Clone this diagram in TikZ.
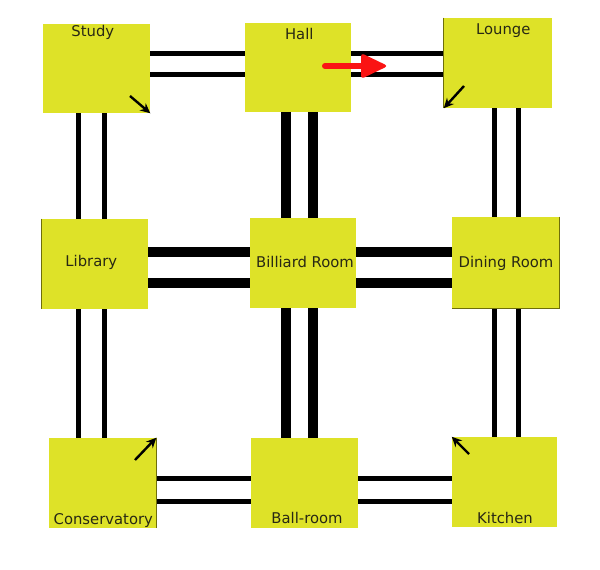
\documentclass[tikz,border=0pt]{standalone}
\usepackage{fontspec}
\setmainfont{DejaVu Sans}
\usetikzlibrary{arrows.meta,backgrounds}
\definecolor{roomfill}{RGB}{222,226,40}
\definecolor{roomedge}{RGB}{110,110,10}
\definecolor{txt}{RGB}{40,40,20}
\definecolor{redarrow}{RGB}{250,20,20}
\tikzset{
  room/.style 2 args={rectangle, fill=roomfill, draw=none, inner sep=0pt,
    minimum width=#1*0.75pt, minimum height=#2*0.75pt},
  lbl/.style={anchor=base, text=txt, font=\fontsize{11.1pt}{12pt}\selectfont, inner sep=0pt},
  thinwall/.style={line width=3.75pt, black},
  thickwall/.style={line width=7.5pt, black},
  pointer/.style={line width=1.8pt, black, -{Stealth[length=7.5pt,width=7pt]}},
  edgeline/.style={line width=0.9pt, roomedge}
}
\begin{document}
\begin{tikzpicture}[x=0.75pt,y=-0.75pt]
\useasboundingbox (0,0) rectangle (600,570);
% rooms
\node[room={107}{89}] (study) at (96.5,68.5) {};
\node[room={106}{89}] (hall) at (298,67.5) {};
\node[room={108}{90}] (lounge) at (498,63) {};
\node[room={106}{90}] (library) at (95,264) {};
\node[room={106}{90}] (billiard) at (303,263) {};
\node[room={107}{91}] (dining) at (505.5,262.5) {};
\node[room={107}{90}] (conservatory) at (102.5,483) {};
\node[room={107}{90}] (ballroom) at (304.5,483) {};
\node[room={105}{90}] (kitchen) at (504.5,482) {};
% edges (shading)
\draw[edgeline] (library.north west) -- (library.south west);
\draw[edgeline] (lounge.north west) -- (lounge.south west);
\draw[edgeline] (dining.north east) -- (dining.south east) -- (dining.south west);
\draw[edgeline] (conservatory.north east) -- (conservatory.south east);
% labels
\node[lbl] (tstudy) at (92.8,36.5) {Study};
\node[lbl] (thall) at (299.3,40) {Hall};
\node[lbl] (tlounge) at (503.3,34.3) {Lounge};
\node[lbl] (tlibrary) at (91.3,266.5) {Library};
\node[lbl] (tbilliard) at (305,267.7) {Billiard Room};
\node[lbl] (tdining) at (506,267.7) {Dining Room};
\node[lbl] (tconservatory) at (103.3,524) {Conservatory};
\node[lbl] (tballroom) at (307,523.3) {Ball-room};
\node[lbl] (tkitchen) at (505,523.3) {Kitchen};
% connectors (behind rooms)
\begin{scope}[on background layer]
  \foreach \yy in {53.5,75} {
    \draw[thinwall] (study.center |- 0,\yy) -- (hall.center |- 0,\yy);
    \draw[thinwall] (hall.center |- 0,\yy) -- (lounge.center |- 0,\yy);
  }
  \foreach \yy in {252,283.5} {
    \draw[thickwall] (library.center |- 0,\yy) -- (billiard.center |- 0,\yy);
    \draw[thickwall] (billiard.center |- 0,\yy) -- (dining.center |- 0,\yy);
  }
  \foreach \yy in {478,501} {
    \draw[thinwall] (conservatory.center |- 0,\yy) -- (ballroom.center |- 0,\yy);
    \draw[thinwall] (ballroom.center |- 0,\yy) -- (kitchen.center |- 0,\yy);
  }
  \foreach \xx in {78.3,104} {
    \draw[thinwall] (\xx,0 |- study.center) -- (\xx,0 |- library.center);
    \draw[thinwall] (\xx,0 |- library.center) -- (\xx,0 |- conservatory.center);
  }
  \foreach \xx in {286,313} {
    \draw[thickwall] (\xx,0 |- hall.center) -- (\xx,0 |- billiard.center);
    \draw[thickwall] (\xx,0 |- billiard.center) -- (\xx,0 |- ballroom.center);
  }
  \foreach \xx in {494,518.5} {
    \draw[thinwall] (\xx,0 |- lounge.center) -- (\xx,0 |- dining.center);
    \draw[thinwall] (\xx,0 |- dining.center) -- (\xx,0 |- kitchen.center);
  }
\end{scope}
% corner arrows
\coordinate (sa) at (130,96);
\draw[pointer] (sa) -- (study.south east);
\coordinate (la) at (464,86);
\draw[pointer] (la) -- (lounge.south west);
\coordinate (ca) at (135,460);
\draw[pointer] (ca) -- (conservatory.north east);
\coordinate (ka) at (469,454);
\draw[pointer] (ka) -- (kitchen.north west);
% red arrow
\coordinate (ra) at (325,66);
\coordinate (rbase) at (363,66);
\coordinate (rb) at (388,66);
\draw[redarrow, line width=4.5pt, line cap=round] (ra) -- (rbase);
\fill[redarrow, rounded corners=2.5pt] (361,53) -- (rb) -- (361,79) -- cycle;
\end{tikzpicture}
\end{document}
